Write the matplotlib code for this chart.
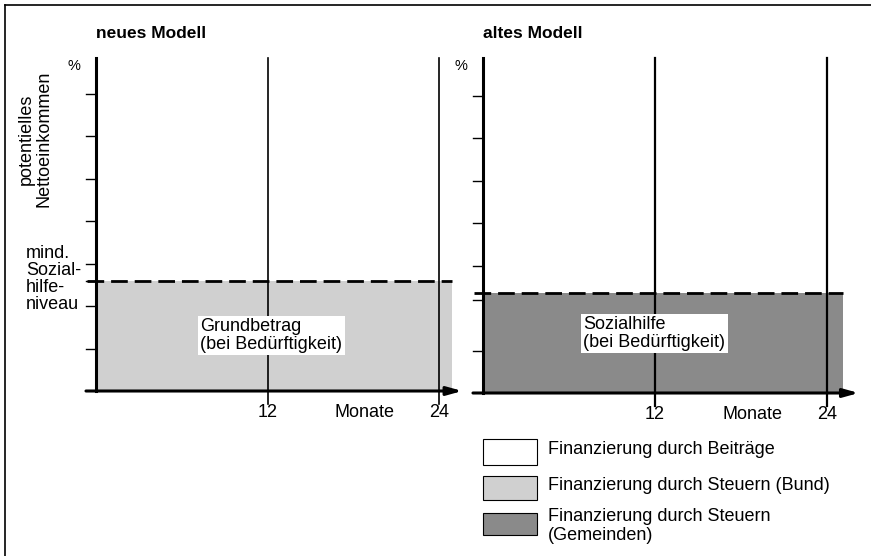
import matplotlib

matplotlib.use("Agg")
import matplotlib.pyplot as plt
from matplotlib.patches import Rectangle
from matplotlib.lines import Line2D

plt.rcParams["font.family"] = ["Liberation Sans", "DejaVu Sans"]

W, H = 871, 556

# schematic data (months / income level in tick units)
panel_titles = ["neues Modell", "altes Modell"]
fill_levels = [2.6, 2.35]          # mind. Sozialhilfeniveau
fill_end = [24.9, 25.1]            # months covered by the shaded area
fill_labels = ["Grundbetrag\n(bei Bedürftigkeit)", "Sozialhilfe\n(bei Bedürftigkeit)"]
fill_label_pos = [(7.3, 1.3), (7.0, 1.4)]
month_marks = [12, 24]
y_ticks = [[1, 2, 2.6, 3, 4, 5, 6, 7], [1, 2.2, 3, 4, 5, 6, 7]]
legend_labels = ["Finanzierung durch Beiträge",
                 "Finanzierung durch Steuern (Bund)",
                 "Finanzierung durch Steuern\n(Gemeinden)"]

LIGHT = "#d0d0d0"
DARK = "#8a8a8a"
fill_colors = [LIGHT, DARK]
legend_colors = ["white", LIGHT, DARK]
FS = 13


def fx(px):
    return px / W


def fy(py):
    return 1 - py / H


fig = plt.figure(figsize=(W / 100, H / 100), dpi=100)

# frame of the scanned page (top and left edge)
fig.add_artist(Line2D([fx(5), fx(871)], [fy(5), fy(5)], color="black", lw=1.2))
fig.add_artist(Line2D([fx(5), fx(5)], [fy(5), fy(556)], color="black", lw=1.2))

axes_rects = [(96, 391, 372, 333), (483, 393, 380, 335)]
xmaxes = [26, 26.5]
arrow_end = [25.6, 26.2]

for i, (left, bottom, width, height) in enumerate(axes_rects):
    ax = fig.add_axes([fx(left), fy(bottom), width / W, height / H])
    ax.set_xlim(0, xmaxes[i])
    ytop = height / 42.5
    ax.set_ylim(0, ytop)
    ax.axis("off")

    # shaded area
    ax.add_patch(Rectangle((0, 0), fill_end[i], fill_levels[i],
                           facecolor=fill_colors[i], edgecolor="none", zorder=1))
    # dashed minimum line
    ax.plot([-0.6, fill_end[i]], [fill_levels[i]] * 2, color="black", lw=2.0,
            dashes=(6, 2.5), clip_on=False, zorder=3)

    # month reference lines
    for m in month_marks:
        ax.plot([m, m], [-0.3, ytop], color="black", lw=1.2 if i == 0 else 1.6,
                clip_on=False, zorder=2)
        ax.text(m, -0.5, str(m), ha="center", va="center", fontsize=FS)
    ax.text(18.8, -0.5, "Monate", ha="center", va="center", fontsize=FS)

    # y axis with outward ticks
    ax.plot([0, 0], [0, ytop], color="black", lw=2.2, clip_on=False, zorder=4)
    for t in y_ticks[i]:
        ax.plot([-0.7, 0], [t, t], color="black", lw=1.0, clip_on=False, zorder=4)
    ax.text(-1.1, ytop - 0.2, "%", ha="right", va="center", fontsize=10.5)

    # x axis arrow
    ax.annotate("", xy=(arrow_end[i], 0), xytext=(-0.7, 0),
                arrowprops=dict(arrowstyle="-|>,head_length=0.9,head_width=0.25",
                                color="black", lw=2.2, shrinkA=0, shrinkB=0),
                annotation_clip=False, zorder=5)

    # label inside shaded area
    lx, ly = fill_label_pos[i]
    ax.text(lx, ly, fill_labels[i], ha="left", va="center", fontsize=FS,
            linespacing=1.05, zorder=6,
            bbox=dict(facecolor="white", edgecolor="none", pad=1.5))

    ax.text(0, ytop + 0.58, panel_titles[i], ha="left", va="center",
            fontsize=12.5, fontweight="bold")

# y-axis description on the left
fig.text(fx(35), fy(139), "potentielles\nNettoeinkommen", rotation=90,
         ha="center", va="center", fontsize=FS, linespacing=1.0)
fig.text(fx(26), fy(279), "mind.\nSozial-\nhilfe-\nniveau", ha="left", va="center",
         fontsize=FS, linespacing=1.0)

# legend
box_y = [(439, 465), (476, 500), (513, 535)]
text_y = [449, 485, 526]
for (top, bot), ty, col, lab in zip(box_y, text_y, legend_colors, legend_labels):
    fig.add_artist(Rectangle((fx(483), fy(bot)), fx(537) - fx(483), fy(top) - fy(bot),
                             transform=fig.transFigure, facecolor=col,
                             edgecolor="black", lw=0.8))
    fig.text(fx(548), fy(ty), lab, ha="left", va="center", fontsize=FS,
             linespacing=1.1)

fig.savefig("out.png", dpi=100)
